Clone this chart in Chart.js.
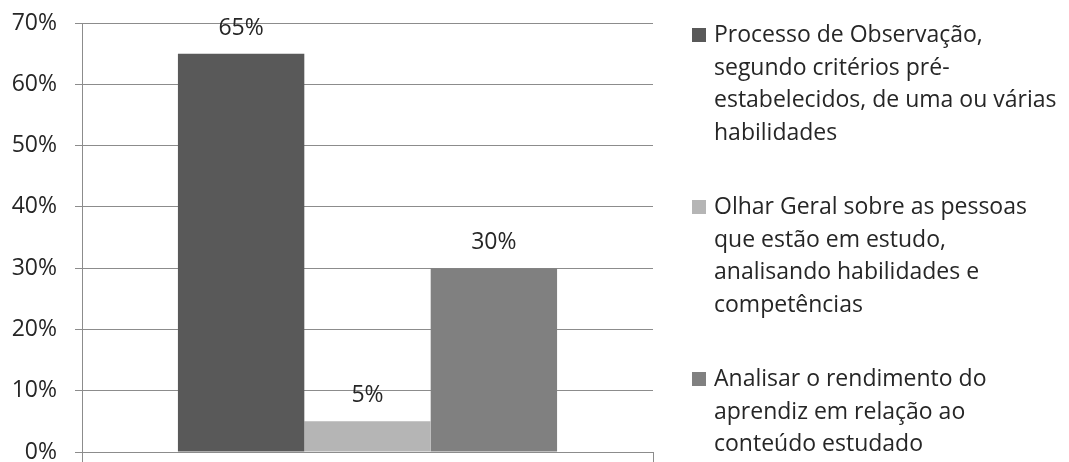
<!DOCTYPE html>
<html>
<head>
<meta charset="utf-8">
<script src="https://cdn.jsdelivr.net/npm/chart.js@4/dist/chart.umd.min.js"></script>
<style>
  html, body { margin: 0; padding: 0; background: #fff; }
  #wrap { width: 1069px; height: 462px; }
</style>
</head>
<body>
<div id="wrap"><canvas id="chart" width="1069" height="462"></canvas></div>
<script>
// one category, three answers
const categories = [""];
const seriesNames = [
  "Processo de Observação, segundo critérios pré-estabelecidos, de uma ou várias habilidades",
  "Olhar Geral sobre as pessoas que estão em estudo, analisando habilidades e competências",
  "Analisar o rendimento do aprendiz em relação ao conteúdo estudado",
];
// legend text wrapped the same way as the original
const legendLines = [
  ["Processo de Observação,", "segundo critérios pré-", "estabelecidos, de uma ou várias", "habilidades"],
  ["Olhar Geral sobre as pessoas", "que estão em estudo,", "analisando habilidades e", "competências"],
  ["Analisar o rendimento do", "aprendiz em relação ao", "conteúdo estudado"],
];
const seriesValues = [65, 5, 30];
const seriesColors = ["#595959", "#b5b5b5", "#808080"];
const yTickValues = [0, 10, 20, 30, 40, 50, 60, 70];

const FONT = "'Open Sans', sans-serif";
const TEXT = "#262626";
const GRID = "#8c8c8c";

// value labels above each bar
const valueLabels = {
  id: "valueLabels",
  afterDatasetsDraw(chart) {
    const ctx = chart.ctx;
    ctx.save();
    ctx.font = "23px " + FONT;
    ctx.fillStyle = TEXT;
    ctx.textAlign = "center";
    ctx.textBaseline = "alphabetic";
    chart.data.datasets.forEach((ds, i) => {
      chart.getDatasetMeta(i).data.forEach((bar, j) => {
        ctx.fillText(ds.data[j] + "%", bar.x, bar.y - 19);
      });
    });
    ctx.restore();
  },
};

// legend on the right with wrapped lines
const sideLegend = {
  id: "sideLegend",
  afterDraw(chart) {
    const ctx = chart.ctx;
    ctx.save();
    ctx.font = "23px " + FONT;
    ctx.textBaseline = "alphabetic";
    chart.data.datasets.forEach((ds, i) => {
      const top = 42 + i * 172;
      ctx.fillStyle = ds.backgroundColor;
      ctx.fillRect(692, top - 14, 14, 14);
      ctx.fillStyle = TEXT;
      legendLines[i].forEach((line, k) => {
        ctx.fillText(line, 714, top + k * 32.5);
      });
    });
    ctx.restore();
  },
};

new Chart(document.getElementById("chart"), {
  type: "bar",
  data: {
    labels: categories,
    datasets: seriesNames.map((name, i) => ({
      label: name,
      data: [seriesValues[i]],
      backgroundColor: seriesColors[i],
      borderWidth: 0,
      categoryPercentage: 0.664,
      barPercentage: 1,
    })),
  },
  options: {
    responsive: false,
    animation: false,
    layout: { padding: { top: 23, right: 416, bottom: 0, left: 0 } },
    scales: {
      x: {
        grid: {
          offset: true,
          drawOnChartArea: false,
          drawTicks: true,
          tickLength: 10,
          color: GRID,
        },
        border: { color: GRID },
        ticks: { display: false },
        afterFit: (scale) => {
          scale.height = 10;
          scale.paddingLeft = 0;
          scale.paddingRight = 0;
        },
      },
      y: {
        min: 0,
        max: 70,
        afterBuildTicks: (scale) => {
          scale.ticks = yTickValues.map((v) => ({ value: v }));
        },
        grid: { color: GRID, tickLength: 7 },
        border: { color: GRID },
        ticks: {
          padding: 18,
          color: TEXT,
          font: { family: FONT, size: 23 },
          callback: (v) => v + "%",
        },
        afterFit: (scale) => {
          scale.width = 82;
          scale.paddingTop = 0;
          scale.paddingBottom = 0;
        },
      },
    },
    plugins: {
      legend: { display: false },
      tooltip: { enabled: false },
    },
  },
  plugins: [valueLabels, sideLegend],
});
</script>
</body>
</html>
